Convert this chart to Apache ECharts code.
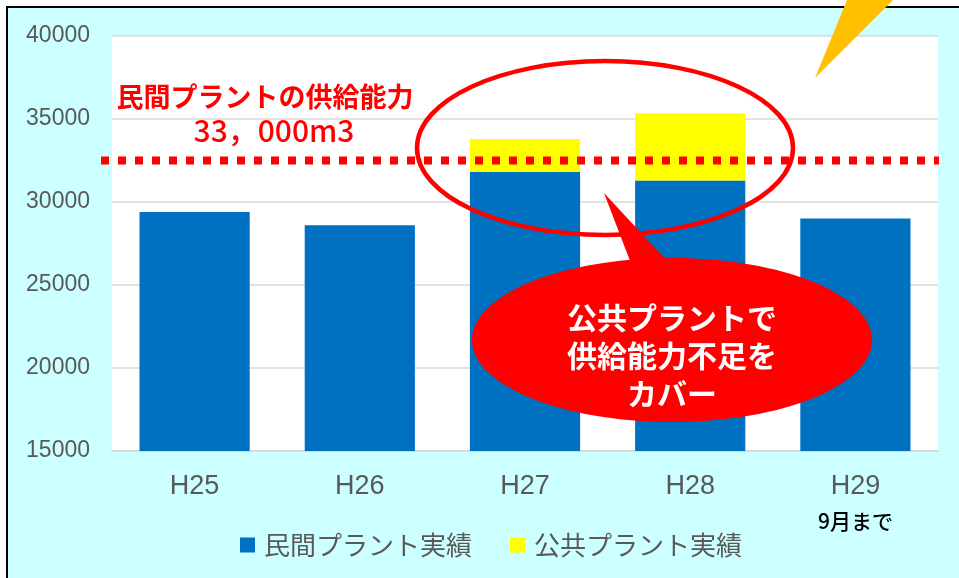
<!DOCTYPE html>
<html>
<head>
<meta charset="utf-8">
<script src="https://cdn.jsdelivr.net/npm/echarts@6/dist/echarts.min.js"></script>
<style>
  html, body { margin: 0; padding: 0; background: #fff; }
  #chart { width: 959px; height: 578px; }
</style>
</head>
<body>
<div id="chart"></div>
<script>
// データ
var categories = ['H25', 'H26', 'H27', 'H28', 'H29'];
var privateVals = [29400, 28600, 31800, 31300, 29000];   // 民間プラント実績
var publicVals = ['-', '-', 2000, 4050, '-'];            // 公共プラント実績
var capacityVal = 32500;                                 // 民間プラントの供給能力（点線）
var yMin = 15000, yMax = 40000, yStep = 5000;

var JP = '"Noto Sans CJK JP", "Noto Sans", sans-serif';
var LAT = '"Liberation Sans", Arial, sans-serif';

var myChart = echarts.init(document.getElementById('chart'));

var option = {
    backgroundColor: '#CCFFFF',
    animation: false,
    grid: {
        left: 112, right: 21, top: 36, bottom: 127,
        show: true, backgroundColor: '#fff', borderWidth: 0
    },
    legend: {
        left: 235, top: 527,
        icon: 'rect', itemWidth: 15, itemHeight: 15, itemGap: 38,
        textStyle: { fontFamily: JP, fontSize: 26, color: '#595959', padding: [0, 0, 0, 4] },
        data: ['民間プラント実績', '公共プラント実績']
    },
    xAxis: {
        type: 'category',
        data: categories,
        axisTick: { show: false },
        axisLine: { lineStyle: { color: '#D9D9D9', width: 2 } },
        axisLabel: {
            margin: 20,
            formatter: function (v) {
                // H29 だけ「9月まで」を下に添える
                return v === 'H29' ? '{a|' + v + '}\n{s|9月まで}' : '{a|' + v + '}';
            },
            rich: {
                a: { fontFamily: LAT, fontSize: 27, color: '#595959', lineHeight: 32 },
                s: { fontFamily: JP, fontSize: 21, fontWeight: 500, color: '#000', lineHeight: 36 }
            }
        }
    },
    yAxis: {
        type: 'value',
        min: yMin, max: yMax, interval: yStep,
        axisLine: { show: false },
        axisTick: { show: false },
        axisLabel: {
            margin: 22, fontFamily: LAT, fontSize: 23, color: '#595959',
            formatter: function (v) { return String(v); }
        },
        splitLine: { lineStyle: { color: '#D9D9D9', width: 1.5 } }
    },
    series: [
        {
            name: '民間プラント実績', type: 'bar', stack: 'total',
            barCategoryGap: '33.3%',
            itemStyle: { color: '#0070C0' },
            data: privateVals
        },
        {
            name: '公共プラント実績', type: 'bar', stack: 'total',
            itemStyle: { color: '#FFFF00' },
            data: publicVals
        }
    ]
};
myChart.setOption(option);

// 点線の位置は軸から求める
var capY = myChart.convertToPixel({ yAxisIndex: 0 }, capacityVal);

myChart.setOption({
    graphic: [
        // 外枠
        { type: 'rect', shape: { x: 0, y: 0, width: 959, height: 6 }, style: { fill: '#fff' }, z: 100 },
        { type: 'rect', shape: { x: 0, y: 0, width: 6, height: 578 }, style: { fill: '#fff' }, z: 100 },
        { type: 'line', shape: { x1: 6, y1: 7, x2: 959, y2: 7 }, style: { stroke: '#000', lineWidth: 2 }, z: 101 },
        { type: 'line', shape: { x1: 7, y1: 6, x2: 7, y2: 578 }, style: { stroke: '#000', lineWidth: 2 }, z: 101 },
        // 右上の吹き出し先端
        { type: 'polygon', shape: { points: [[847, 0], [893, 0], [815, 78]] }, style: { fill: '#FFC000' }, z: 102 },
        // 供給能力の点線
        { type: 'line', shape: { x1: 101, y1: capY, x2: 939, y2: capY },
          style: { stroke: '#FF0000', lineWidth: 8, lineDash: [8, 9], lineCap: 'butt' }, z: 50 },
        { type: 'text', style: { text: '民間プラントの供給能力', x: 265, y: 97, align: 'center', verticalAlign: 'middle',
            font: 'bold 27px ' + JP, fill: '#FF0000' }, z: 60 },
        { type: 'text', style: { text: '33，000m3', x: 274, y: 131, align: 'center', verticalAlign: 'middle',
            font: '500 30px ' + JP, fill: '#FF0000' }, z: 60 },
        // 赤い楕円（枠）
        { type: 'ellipse', shape: { cx: 605, cy: 148, rx: 188, ry: 87 },
          style: { fill: null, stroke: '#FF0000', lineWidth: 4.5 }, z: 55 },
        // 赤い吹き出し
        { type: 'polygon', shape: { points: [[604, 193], [632, 266], [668, 262]] }, style: { fill: '#FF0000' }, z: 70 },
        { type: 'ellipse', shape: { cx: 672, cy: 340, rx: 200, ry: 82 }, style: { fill: '#FF0000' }, z: 70 },
        { type: 'text', style: { text: '公共プラントで\n供給能力不足を\nカバー', x: 672, y: 356,
            align: 'center', verticalAlign: 'middle', lineHeight: 38,
            font: 'bold 30px ' + JP, fill: '#fff' }, z: 71 }
    ]
});
</script>
</body>
</html>
